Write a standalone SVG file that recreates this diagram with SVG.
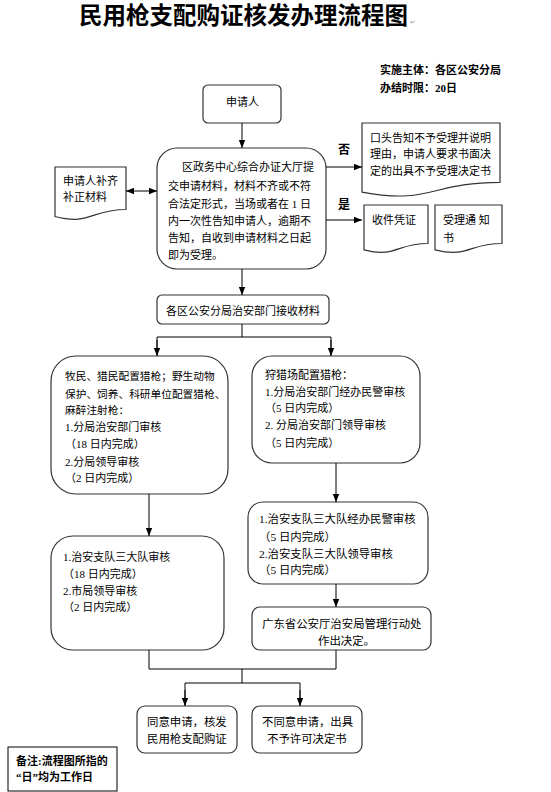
<svg xmlns="http://www.w3.org/2000/svg" width="551" height="792" viewBox="0 0 551 792">
<style>
.t{font-family:"Liberation Serif","Noto Sans CJK SC",serif;font-size:11px;fill:#000}
.b{font-weight:bold}
.box{fill:#fff;stroke:#333;stroke-width:1.2}
.ln{fill:none;stroke:#000;stroke-width:1}
.mk{font-family:"Liberation Sans",sans-serif;font-size:6px;fill:#888}
</style>
<defs>
<marker id="ah" viewBox="0 0 8 8" refX="8" refY="4" markerWidth="8" markerHeight="8" markerUnits="userSpaceOnUse" orient="auto-start-reverse">
<path d="M0,0.8 L8,4 L0,7.2 Z" fill="#000"/>
</marker>
</defs>
<rect width="551" height="792" fill="#fff"/>

<g id="title">
<text class="t b" x="79" y="24" style="font-size:23.5px">民用枪支配购证核发办理流程图</text>
<text class="mk" x="410" y="24">↵</text>
</g>
<g id="info">
<text class="t b" x="380" y="74">实施主体：各区公安分局</text>
<text class="t b" x="380" y="92">办结时限：<tspan font-family="Liberation Serif">20</tspan>日</text>
</g>

<g id="applicant">
<rect class="box" x="203" y="85" width="78" height="38" rx="5"/>
<text class="t" x="226" y="106">申请人</text>
</g>

<g id="center">
<rect class="box" x="157" y="148" width="169" height="121" rx="20"/>
<text class="t" x="182" y="171">区政务中心综合办证大厅提</text>
<text class="t" x="168" y="190">交申请材料，材料不齐或不符</text>
<text class="t" x="168" y="208">合法定形式，当场或者在 1 日</text>
<text class="t" x="168" y="225">内一次性告知申请人，逾期不</text>
<text class="t" x="168" y="242">告知，自收到申请材料之日起</text>
<text class="t" x="168" y="259">即为受理。</text>
</g>

<g id="supplement">
<path class="box" d="M55,167 H126 V209.5 C90.5,209.5 90.5,225.7 55,216.5 Z"/>
<text class="t" x="63" y="185">申请人补齐</text>
<text class="t" x="63" y="201">补正材料</text>
</g>

<g id="reject">
<path class="box" d="M362,123 H500 V182.3 C431,182.3 431,204.9 362,192.1 Z"/>
<text class="t" x="370" y="142">口头告知不予受理并说明</text>
<text class="t" x="370" y="158">理由，申请人要求书面决</text>
<text class="t" x="370" y="175">定的出具不予受理决定书</text>
</g>

<g id="receipt">
<path class="box" d="M364,205 H428 V243.5 C396,243.5 396,258.1 364,249.8 Z"/>
<text class="t" x="372" y="224">收件凭证</text>
</g>

<g id="notice">
<path class="box" d="M435,205 H502 V243.5 C468.5,243.5 468.5,258.1 435,249.8 Z"/>
<text class="t" x="443" y="224">受理通 知</text>
<text class="t" x="443" y="242">书</text>
</g>

<g id="receive">
<rect class="box" x="157" y="295" width="172" height="29" rx="5"/>
<text class="t" x="166" y="315">各区公安分局治安部门接收材料</text>
</g>

<g id="left1">
<rect class="box" x="51" y="356" width="177" height="138" rx="25"/>
<text class="t" x="65" y="380" style="font-size:10.7px">牧民、猎民配置猎枪；野生动物</text>
<text class="t" x="65" y="398" style="font-size:10.7px">保护、饲养、科研单位配置猎枪、</text>
<text class="t" x="65" y="414" style="font-size:10.7px">麻醉注射枪：</text>
<text class="t" x="65" y="431">1.分局治安部门审核</text>
<text class="t" x="65" y="448">（18 日内完成）</text>
<text class="t" x="65" y="466">2.分局领导审核</text>
<text class="t" x="65" y="482">（2 日内完成）</text>
</g>

<g id="right1">
<rect class="box" x="252" y="356" width="168" height="107" rx="20"/>
<text class="t" x="265" y="379">狩猎场配置猎枪：</text>
<text class="t" x="265" y="396">1.分局治安部门经办民警审核</text>
<text class="t" x="265" y="412">（5 日内完成）</text>
<text class="t" x="265" y="429">2. 分局治安部门领导审核</text>
<text class="t" x="265" y="447">（5 日内完成）</text>
</g>

<g id="left2">
<rect class="box" x="51" y="536" width="173" height="114" rx="22"/>
<text class="t" x="63" y="561">1.治安支队三大队审核</text>
<text class="t" x="63" y="578">（18 日内完成）</text>
<text class="t" x="63" y="595">2.市局领导审核</text>
<text class="t" x="63" y="611">（2 日内完成）</text>
</g>

<g id="right2">
<rect class="box" x="248" y="502" width="180" height="82" rx="15"/>
<text class="t" x="259" y="523" style="font-size:11.4px">1.治安支队三大队经办民警审核</text>
<text class="t" x="259" y="541" style="font-size:11.4px">（5 日内完成）</text>
<text class="t" x="259" y="558" style="font-size:11.4px">2.治安支队三大队领导审核</text>
<text class="t" x="259" y="574" style="font-size:11.4px">（5 日内完成）</text>
</g>

<g id="right3">
<rect class="box" x="252" y="607" width="179" height="43" rx="8"/>
<text class="t" x="262" y="628" style="font-size:11.4px">广东省公安厅治安局管理行动处</text>
<text class="t" x="318" y="645" style="font-size:11.4px">作出决定。</text>
</g>

<g id="approve">
<rect class="box" x="137" y="706" width="100" height="47" rx="8"/>
<text class="t" x="147" y="726" style="font-size:11.4px">同意申请，核发</text>
<text class="t" x="147" y="743" style="font-size:11.4px">民用枪支配购证</text>
</g>

<g id="deny">
<rect class="box" x="252" y="706" width="110" height="47" rx="8"/>
<text class="t" x="262" y="726" style="font-size:11.4px">不同意申请，出具</text>
<text class="t" x="267" y="743" style="font-size:11.4px">不予许可决定书</text>
</g>

<g id="note">
<rect x="8" y="747" width="109" height="44" fill="#fff" stroke="#000" stroke-width="1"/>
<text class="t b" x="16" y="765">备注:流程图所指的</text>
<text class="t b" x="16" y="781">“日”均为工作日</text>
</g>

<g id="labels">
<text class="t b" x="338" y="154" style="font-size:12px">否</text>
<text class="t b" x="338" y="209" style="font-size:12px">是</text>
</g>

<g id="connectors">
<line class="ln" x1="242" y1="123" x2="242" y2="148" marker-end="url(#ah)"/>
<line class="ln" x1="126" y1="191" x2="157" y2="191" marker-start="url(#ah)" marker-end="url(#ah)"/>
<line class="ln" x1="326" y1="167" x2="362" y2="167" marker-end="url(#ah)"/>
<line class="ln" x1="326" y1="220" x2="362" y2="220" marker-end="url(#ah)"/>
<line class="ln" x1="242" y1="269" x2="242" y2="295" marker-end="url(#ah)"/>
<path class="ln" d="M242,324 V337"/>
<path class="ln" d="M157,355 V337 H331 V355"/>
<line class="ln" x1="157" y1="340" x2="157" y2="356" marker-end="url(#ah)"/>
<line class="ln" x1="331" y1="340" x2="331" y2="356" marker-end="url(#ah)"/>
<line class="ln" x1="149" y1="494" x2="149" y2="536" marker-end="url(#ah)"/>
<line class="ln" x1="336" y1="463" x2="336" y2="502" marker-end="url(#ah)"/>
<line class="ln" x1="336" y1="584" x2="336" y2="607" marker-end="url(#ah)"/>
<path class="ln" d="M149,650 V669 H336 V650"/>
<path class="ln" d="M242,669 V683"/>
<path class="ln" d="M185,705 V683 H300 V705"/>
<line class="ln" x1="185" y1="690" x2="185" y2="706" marker-end="url(#ah)"/>
<line class="ln" x1="300" y1="690" x2="300" y2="706" marker-end="url(#ah)"/>
</g>
</svg>
